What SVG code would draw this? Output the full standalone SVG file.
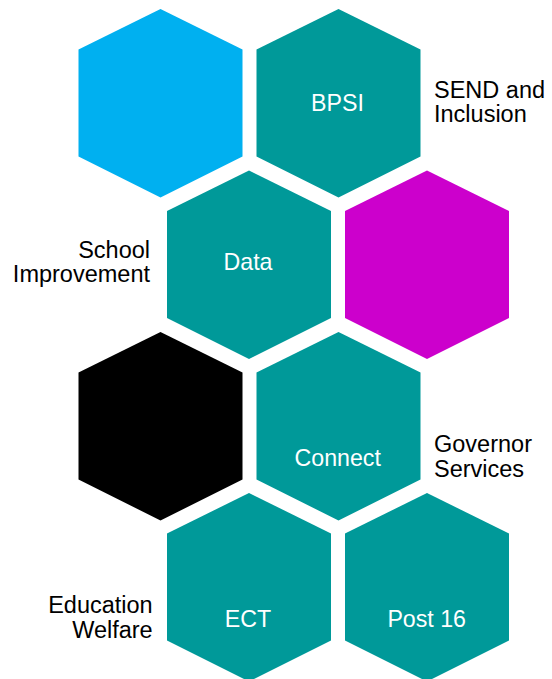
<svg xmlns="http://www.w3.org/2000/svg" width="552" height="679" viewBox="0 0 552 679">
<defs>
<style>
.teal{fill:#009999}
.lbl{font-family:"Liberation Sans",Arial,sans-serif;font-size:23.2px;fill:#ffffff;text-anchor:middle}
.side{font-family:"Liberation Sans",Arial,sans-serif;font-size:23.5px;fill:#000000}
</style>
<polygon id="hex" points="0,0 82,40.5 82,147.5 0,188.5 -82,147.5 -82,40.5"/>
</defs>
<rect width="552" height="679" fill="#ffffff"/>
<g id="blue"><use href="#hex" x="160.5" y="9" fill="#00B0F0"/></g>
<g id="bpsi"><use href="#hex" x="338.5" y="9" class="teal"/><text class="lbl" x="337.5" y="111">BPSI</text></g>
<g id="send"><text class="side" x="434" y="98.3">SEND and</text><text class="side" x="434" y="122.3">Inclusion</text></g>
<g id="data"><use href="#hex" x="249" y="170.5" class="teal"/><text class="lbl" x="248" y="270">Data</text></g>
<g id="magenta"><use href="#hex" x="427" y="170.5" fill="#CC00CC"/></g>
<g id="school"><text class="side" x="150" y="258.3" text-anchor="end">School</text><text class="side" x="150" y="282.3" text-anchor="end">Improvement</text></g>
<g id="black"><use href="#hex" x="160.5" y="332" fill="#000000"/></g>
<g id="connect"><use href="#hex" x="338.5" y="332" class="teal"/><text class="lbl" x="337.7" y="465.7">Connect</text></g>
<g id="governor"><text class="side" x="434" y="451.7">Governor</text><text class="side" x="434" y="476.5">Services</text></g>
<g id="ect"><use href="#hex" x="249" y="493" class="teal"/><text class="lbl" x="248" y="626.7">ECT</text></g>
<g id="post16"><use href="#hex" x="427" y="493" class="teal"/><text class="lbl" x="426.7" y="626.7">Post 16</text></g>
<g id="welfare"><text class="side" x="152.7" y="612.7" text-anchor="end">Education</text><text class="side" x="152.7" y="637.7" text-anchor="end">Welfare</text></g>
<g id="connectors"/>
</svg>
